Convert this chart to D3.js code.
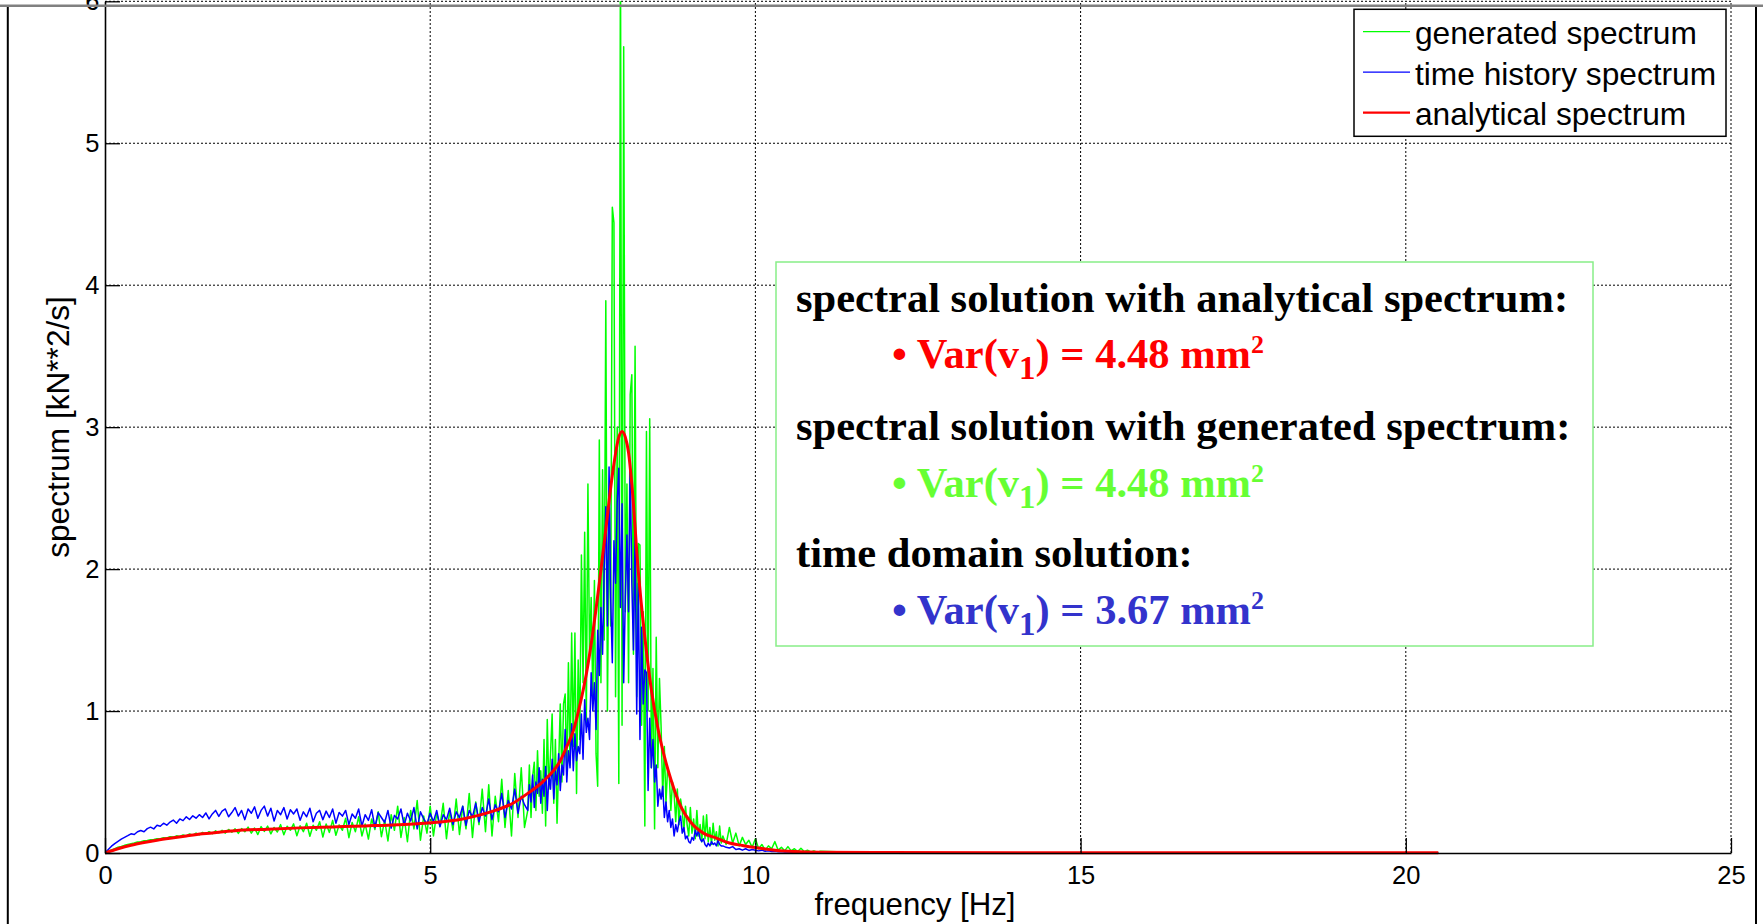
<!DOCTYPE html>
<html><head><meta charset="utf-8">
<script src="https://cdn.jsdelivr.net/npm/d3@7"></script>
<style>
html,body{margin:0;padding:0;background:#fff;overflow:hidden}
svg{display:block}
</style></head><body>
<svg id="chart" width="1763" height="924"></svg>
<script>
// ---------------- data ----------------
const xTicks = [0, 5, 10, 15, 20, 25];
const yTicks = [0, 1, 2, 3, 4, 5, 6];
const legendLabels = ["generated spectrum", "time history spectrum", "analytical spectrum"];

// frequency grids (Hz): 0-6.45 step 0.05, 6.5-9.475 step 0.025, 9.5-11 step 0.05, then sparse tail
const lowFreq = d3.range(130).map(i => +(i * 0.05).toFixed(3));
const peakFreq = d3.range(120).map(k => +(6.5 + k * 0.025).toFixed(3));
const highFreq = d3.range(31).map(j => +(9.5 + j * 0.05).toFixed(3));
const tailFreq = [11.5, 12, 13, 14, 15, 16, 17, 18, 19, 20, 20.5];

const greenLow = [
 0.000,0.012,0.022,0.031,0.040,0.046,0.054,0.060,0.066,0.070,
 0.077,0.080,0.086,0.088,0.094,0.096,0.101,0.100,0.108,0.106,
 0.114,0.112,0.121,0.116,0.127,0.120,0.134,0.126,0.140,0.128,
 0.145,0.132,0.150,0.136,0.156,0.141,0.160,0.140,0.166,0.146,
 0.170,0.138,0.172,0.150,0.182,0.140,0.176,0.130,0.186,0.152,
 0.190,0.135,0.180,0.148,0.200,0.128,0.188,0.160,0.205,0.122,
 0.192,0.150,0.210,0.118,0.196,0.160,0.220,0.112,0.205,0.145,
 0.230,0.125,0.198,0.160,0.245,0.108,0.215,0.150,0.255,0.120,
 0.205,0.098,0.240,0.165,0.290,0.115,0.230,0.085,0.270,0.160,
 0.330,0.110,0.250,0.080,0.300,0.170,0.370,0.090,0.260,0.140,
 0.330,0.120,0.280,0.190,0.350,0.100,0.300,0.160,0.380,0.130,
 0.330,0.170,0.420,0.110,0.360,0.200,0.450,0.150,0.480,0.120,
 0.400,0.220,0.520,0.180,0.440,0.120,0.560,0.250,0.600,0.180];
const greenPeak = [
 0.30,0.62,0.25,0.54,0.64,0.30,0.72,0.40,0.58,0.28,
 0.80,0.19,0.94,0.45,0.70,0.98,0.35,0.80,0.21,0.62,
 1.05,0.50,1.05,1.12,0.55,1.34,0.62,1.55,0.75,1.55,
 0.42,1.36,0.80,2.10,1.20,2.26,0.90,2.60,1.40,1.80,
 1.10,1.92,0.70,0.47,2.91,1.20,2.70,1.50,3.89,1.00,
 2.40,1.60,4.55,4.44,1.10,3.00,0.49,6.50,0.90,5.68,
 1.70,2.60,1.20,3.23,3.37,1.40,3.57,1.10,2.18,2.17,
 0.90,1.70,0.19,2.97,1.00,3.06,0.60,1.30,0.17,1.52,
 0.60,1.23,0.89,0.40,0.75,0.35,0.60,0.56,0.30,0.50,
 0.42,0.22,0.45,0.20,0.38,0.30,0.15,0.33,0.20,0.12,
 0.32,0.14,0.24,0.10,0.30,0.12,0.20,0.08,0.26,0.10,
 0.27,0.08,0.18,0.06,0.21,0.09,0.15,0.05,0.19,0.07];
const greenHigh = [
 0.12,0.06,0.18,0.07,0.14,0.05,0.11,0.06,0.09,0.04,
 0.10,0.03,0.06,0.02,0.05,0.03,0.08,0.02,0.04,0.015,
 0.045,0.015,0.03,0.01,0.033,0.01,0.02,0.008,0.015,0.006,
 0.012];
const greenTail = [0.006,0.004,0.002,0.002,0.001,0.001,0.001,0.001,0.001,0.001,0.001];

const blueLow = [
 0.000,0.025,0.048,0.066,0.082,0.098,0.110,0.122,0.135,0.130,
 0.150,0.158,0.150,0.172,0.182,0.170,0.195,0.188,0.210,0.196,
 0.218,0.232,0.210,0.240,0.228,0.255,0.236,0.262,0.245,0.270,
 0.250,0.282,0.240,0.275,0.300,0.258,0.295,0.310,0.255,0.285,
 0.320,0.260,0.300,0.235,0.310,0.280,0.325,0.245,0.300,0.330,
 0.260,0.315,0.225,0.300,0.270,0.320,0.240,0.305,0.275,0.310,
 0.230,0.290,0.255,0.315,0.220,0.280,0.300,0.235,0.295,0.250,
 0.310,0.210,0.285,0.260,0.300,0.200,0.275,0.245,0.310,0.190,
 0.270,0.230,0.305,0.180,0.285,0.250,0.215,0.300,0.175,0.265,
 0.240,0.310,0.195,0.280,0.225,0.320,0.170,0.290,0.240,0.205,
 0.280,0.220,0.300,0.185,0.270,0.235,0.315,0.200,0.290,0.250,
 0.330,0.195,0.300,0.255,0.350,0.220,0.320,0.260,0.380,0.235,
 0.340,0.290,0.420,0.250,0.370,0.310,0.450,0.280,0.400,0.340];
const bluePeak = [
 0.30,0.48,0.36,0.55,0.32,0.50,0.42,0.60,0.35,0.52,
 0.40,0.61,0.30,0.55,0.45,0.66,0.38,0.58,0.48,0.70,
 0.44,0.62,0.55,0.87,0.50,0.72,0.60,0.91,0.58,0.84,
 0.65,0.75,0.70,0.98,0.66,1.08,0.85,0.95,0.80,1.27,
 1.00,1.20,0.87,1.57,1.25,1.73,1.40,2.00,2.44,1.60,
 2.72,1.80,1.34,2.20,1.90,2.47,2.71,1.73,2.46,1.20,
 1.80,2.24,1.70,2.76,1.90,1.43,2.25,0.98,1.90,0.80,
 1.59,1.05,1.29,1.27,0.44,0.95,0.60,0.80,0.50,0.62,
 0.33,0.45,0.38,0.47,0.25,0.36,0.22,0.30,0.18,0.24,
 0.12,0.20,0.15,0.22,0.26,0.14,0.18,0.10,0.12,0.08,
 0.07,0.11,0.09,0.16,0.12,0.16,0.10,0.08,0.10,0.06,
 0.045,0.07,0.05,0.08,0.06,0.07,0.05,0.09,0.06,0.05];
const blueHigh = [
 0.05,0.04,0.035,0.045,0.025,0.03,0.02,0.03,0.018,0.025,
 0.02,0.015,0.02,0.012,0.015,0.01,0.013,0.008,0.011,0.007,
 0.009,0.006,0.007,0.005,0.006,0.004,0.005,0.004,0.004,0.003,
 0.003];
const blueTail = [0.002,0.002,0.001,0.001,0.001,0.001,0.001,0.001,0.001,0.001,0.001];

const redFreq = [0,0.2,0.4,0.6,0.8,1.0,1.25,1.5,1.75,2.0,2.5,3.0,3.5,4.0,4.5,5.0,5.5,6.0,6.25,6.5,6.75,
 7.0,7.1,7.2,7.3,7.4,7.5,7.6,7.7,7.8,7.9,7.95,8.0,8.05,8.1,8.2,8.3,8.4,8.5,8.6,8.7,8.85,
 9.0,9.2,9.4,9.6,9.8,10.0,10.3,10.6,11.0,12.0,15.0,20.5];
const redVals = [0,0.03,0.055,0.074,0.09,0.104,0.12,0.135,0.147,0.157,0.168,0.177,0.184,0.191,0.199,0.213,0.24,0.30,0.345,0.42,0.51,
 0.65,0.75,0.86,1.04,1.26,1.55,1.90,2.28,2.66,2.93,2.97,2.93,2.82,2.60,1.98,1.52,1.15,0.88,0.68,0.52,0.33,
 0.22,0.14,0.105,0.07,0.053,0.038,0.02,0.01,0.005,0.003,0.001,0.001];

const textLines = [
 {t:"spectral solution with analytical spectrum:", kind:"head"},
 {t:"4.48", kind:"var", color:"#ff0000"},
 {t:"spectral solution with generated spectrum:", kind:"head"},
 {t:"4.48", kind:"var", color:"#66ff33"},
 {t:"time domain solution:", kind:"head"},
 {t:"3.67", kind:"var", color:"#3333cc"}];

// ---------------- chart ----------------
const svg = d3.select("#chart");
const x = d3.scaleLinear().domain([0, 25]).range([105, 1731]);
const y = d3.scaleLinear().domain([0, 6]).range([853, 1.3]);
const sans = "'Liberation Sans', Arial, sans-serif";
const serif = "'Liberation Serif', 'Times New Roman', serif";

const zip = (fs, vs) => fs.map((f, i) => ({f, v: vs[i]}));
const greenData = [...zip(lowFreq, greenLow), ...zip(peakFreq, greenPeak), ...zip(highFreq, greenHigh), ...zip(tailFreq, greenTail)];
const blueData = [...zip(lowFreq, blueLow), ...zip(peakFreq, bluePeak), ...zip(highFreq, blueHigh), ...zip(tailFreq, blueTail)];
const redData = zip(redFreq, redVals);

// grid
const grid = svg.append("g");
grid.selectAll("line.gx").data(xTicks.filter(d => d > 0)).join("line")
  .attr("x1", d => x(d)).attr("x2", d => x(d)).attr("y1", y(0)).attr("y2", y(6))
  .attr("stroke", "#000").attr("stroke-width", 1).attr("stroke-dasharray", "2,2");
grid.selectAll("line.gy").data(yTicks.filter(d => d > 0)).join("line")
  .attr("x1", x(0)).attr("x2", x(25)).attr("y1", d => y(d)).attr("y2", d => y(d))
  .attr("stroke", "#000").attr("stroke-width", 1).attr("stroke-dasharray", "2,2");

// clip
svg.append("defs").append("clipPath").attr("id", "plotclip").append("rect")
  .attr("x", x(0)).attr("y", y(6)).attr("width", x(25) - x(0)).attr("height", y(0) - y(6) + 2);

const line = d3.line().x(d => x(d.f)).y(d => y(d.v));
const plot = svg.append("g").attr("clip-path", "url(#plotclip)");
plot.append("path").datum(greenData).attr("d", line).attr("fill", "none")
  .attr("stroke", "#00ff00").attr("stroke-width", 1.5).attr("stroke-linejoin", "round");
plot.append("path").datum(blueData).attr("d", line).attr("fill", "none")
  .attr("stroke", "#0000ff").attr("stroke-width", 1.5).attr("stroke-linejoin", "round");
plot.append("path").datum(redData).attr("d", line.curve(d3.curveMonotoneX)).attr("fill", "none")
  .attr("stroke", "#ff0000").attr("stroke-width", 3);

// axes
const xAxis = d3.axisBottom(x).tickValues(xTicks).tickFormat(d3.format("d"))
  .tickSizeInner(-15).tickSizeOuter(0).tickPadding(13);
const yAxis = d3.axisLeft(y).tickValues(yTicks).tickFormat(d3.format("d"))
  .tickSizeInner(-15).tickSizeOuter(0).tickPadding(5.5);
const gx = svg.append("g").attr("transform", `translate(0,${y(0)})`).call(xAxis);
const gy = svg.append("g").attr("transform", `translate(${x(0)},0)`).call(yAxis);
[gx, gy].forEach(g => {
  g.select(".domain").attr("stroke", "#000").attr("stroke-width", 1.6);
  g.selectAll(".tick line").attr("stroke", "#000").attr("stroke-width", 1.3);
  g.selectAll(".tick text").attr("fill", "#000").style("font-family", sans).style("font-size", "25.5px");
});

// axis labels
svg.append("text").attr("x", 915).attr("y", 915).attr("text-anchor", "middle")
  .style("font-family", sans).style("font-size", "31.2px").text("frequency [Hz]");
svg.append("text").attr("transform", "translate(69,427) rotate(-90)").attr("text-anchor", "middle")
  .style("font-family", sans).style("font-size", "31.6px").text("spectrum [kN**2/s]");

// legend
const leg = svg.append("g");
leg.append("rect").attr("x", 1354).attr("y", 9.3).attr("width", 372).attr("height", 127)
  .attr("fill", "#fff").attr("stroke", "#000").attr("stroke-width", 1.5);
const legColors = ["#00ff00", "#0000ff", "#ff0000"];
const legW = [1.3, 1.3, 2.2];
const legY = d3.scalePoint().domain(legendLabels).range([31.7, 112.7]);
legendLabels.forEach((lab, i) => {
  leg.append("line").attr("x1", 1363).attr("x2", 1410).attr("y1", legY(lab)).attr("y2", legY(lab))
    .attr("stroke", legColors[i]).attr("stroke-width", legW[i]);
  leg.append("text").attr("x", 1415).attr("y", legY(lab) + 12.4)
    .style("font-family", sans).style("font-size", "31.7px").attr("fill", "#000").text(lab);
});

// annotation box
svg.append("rect").attr("x", 776).attr("y", 262).attr("width", 817).attr("height", 384)
  .attr("fill", "#fff").attr("stroke", "#88ee88").attr("stroke-width", 1.5);
const baselines = [312, 368, 440, 497, 567, 624];
textLines.forEach((ln, i) => {
  const t = svg.append("text").attr("y", baselines[i])
    .style("font-family", serif).style("font-weight", "bold").style("font-size", "42.5px");
  if (ln.kind === "head") {
    t.attr("x", 796).attr("fill", "#000").text(ln.t);
  } else {
    t.attr("x", 892).attr("fill", ln.color);
    t.append("tspan").text("\u2022 Var(v");
    t.append("tspan").attr("dy", 11).style("font-size", "33px").text("1");
    t.append("tspan").attr("dy", -11).text(") = " + ln.t + " mm");
    t.append("tspan").attr("dy", -15).style("font-size", "26px").text("2");
  }
});

// figure frame
svg.append("line").attr("x1", 0).attr("x2", 1763).attr("y1", 5.7).attr("y2", 5.7)
  .attr("stroke", "#808080").attr("stroke-width", 2.5);
svg.append("line").attr("x1", 7.8).attr("x2", 7.8).attr("y1", 7).attr("y2", 924)
  .attr("stroke", "#000").attr("stroke-width", 2);
svg.append("line").attr("x1", 1756).attr("x2", 1756).attr("y1", 7).attr("y2", 924)
  .attr("stroke", "#000").attr("stroke-width", 2);
</script>
</body></html>
